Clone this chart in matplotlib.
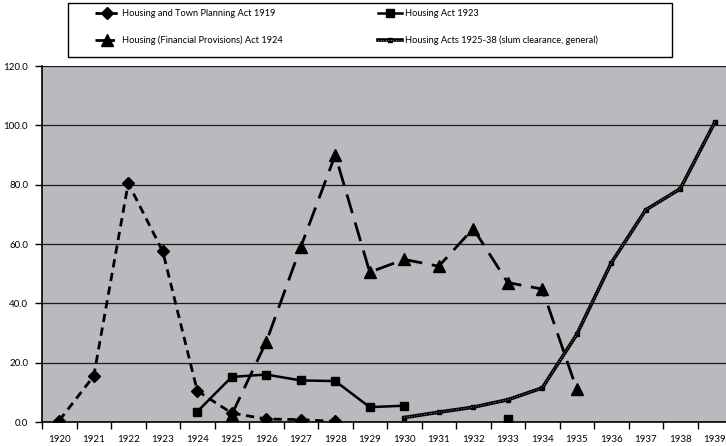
import numpy as np
import matplotlib
matplotlib.use("Agg")
import matplotlib.pyplot as plt
from matplotlib.patches import Rectangle

plt.rcParams['font.family'] = ['Lato', 'DejaVu Sans']

years = [str(y) for y in range(1920, 1940)]
nan = np.nan

# thousands of dwellings completed under each act
act_1919 = [0.5, 15.5, 80.5, 57.5, 10.5, 3.0, 1.0, 0.8, 0.2,
            nan, nan, nan, nan, nan, nan, nan, nan, nan, nan, nan]
act_1923 = [nan, nan, nan, nan, 3.5, 15.2, 16.0, 14.0, 13.8, 5.0, 5.5,
            nan, nan, 1.0, nan, nan, nan, nan, nan, nan]
act_1924 = [nan, nan, nan, nan, nan, 2.5, 27.0, 59.0, 90.0, 50.5, 54.8,
            52.5, 65.2, 47.0, 44.8, 11.0, nan, nan, nan, nan]
acts_1925_38 = [nan, nan, nan, nan, nan, nan, nan, nan, nan, nan, 1.5,
                3.3, 5.0, 7.5, 11.5, 29.5, 53.6, 71.5, 78.6, 101.0]

labels = ['Housing and Town Planning Act 1919', 'Housing Act 1923',
          'Housing (Financial Provisions) Act 1924',
          'Housing Acts 1925-38 (slum clearance, general)']

x = np.arange(len(years))
W, H = 726, 446

fig = plt.figure(figsize=(W / 100, H / 100), dpi=100)
ax = fig.add_axes([42 / W, 24 / H, 690 / W, 356 / H])
ax.set_facecolor('#b9babe')

l1, = ax.plot(x, act_1919, color='black', lw=2, ls=(0, (3, 2)),
              marker='D', ms=6.5, zorder=4)
l2, = ax.plot(x, act_1923, color='black', lw=1.8, ls='-',
              marker='s', ms=6, zorder=4)
l3, = ax.plot(x, act_1924, color='black', lw=2, ls=(0, (7, 3.5)),
              marker='^', ms=8, zorder=4)
l4a, = ax.plot(x, acts_1925_38, color='black', lw=2.6, ls='-',
               marker='s', ms=3.5, zorder=3)
l4b, = ax.plot(x, acts_1925_38, color='#d0d0d0', lw=0.6,
               ls=(0, (0.8, 2.2)), zorder=3.5)

ax.set_xlim(-0.5, len(years) - 0.5)
ax.set_ylim(0, 120)
ax.set_yticks(np.arange(0, 121, 20))
ax.set_yticklabels([f'{v:.1f}' for v in np.arange(0, 121, 20)])
ax.yaxis.grid(True, color='#1a1a1a', lw=0.9)
ax.set_axisbelow(True)

ax.set_xticks(x)
ax.set_xticklabels(years)
ax.set_xticks(np.arange(-0.5, len(years)), minor=True)
ax.tick_params(axis='x', which='major', length=0, pad=9, labelsize=7)
ax.tick_params(axis='x', which='minor', length=5, width=1, direction='out')
ax.tick_params(axis='y', length=5, width=1, labelsize=7, pad=5)

for side in ['top', 'right']:
    ax.spines[side].set_visible(False)
ax.spines['left'].set_linewidth(1.2)
ax.spines['bottom'].set_linewidth(1.2)

# legend box drawn separately so the entries can sit inset from the frame
fig.patches.append(Rectangle((68 / W, 1 - 57 / H), 604 / W, 54 / H,
                             transform=fig.transFigure, fill=False,
                             edgecolor='black', lw=1))
leg = fig.legend([l1, l3, l2, (l4a, l4b)],
                 [labels[0], labels[2], labels[1], labels[3]], ncol=2,
                 loc='upper left', bbox_to_anchor=(95 / W, 1 - 9 / H),
                 fontsize=6.7, frameon=False, handlelength=2.6,
                 handletextpad=0.3, columnspacing=10.2, borderpad=0,
                 labelspacing=1.9, borderaxespad=0)

fig.savefig('out.png', dpi=100)
